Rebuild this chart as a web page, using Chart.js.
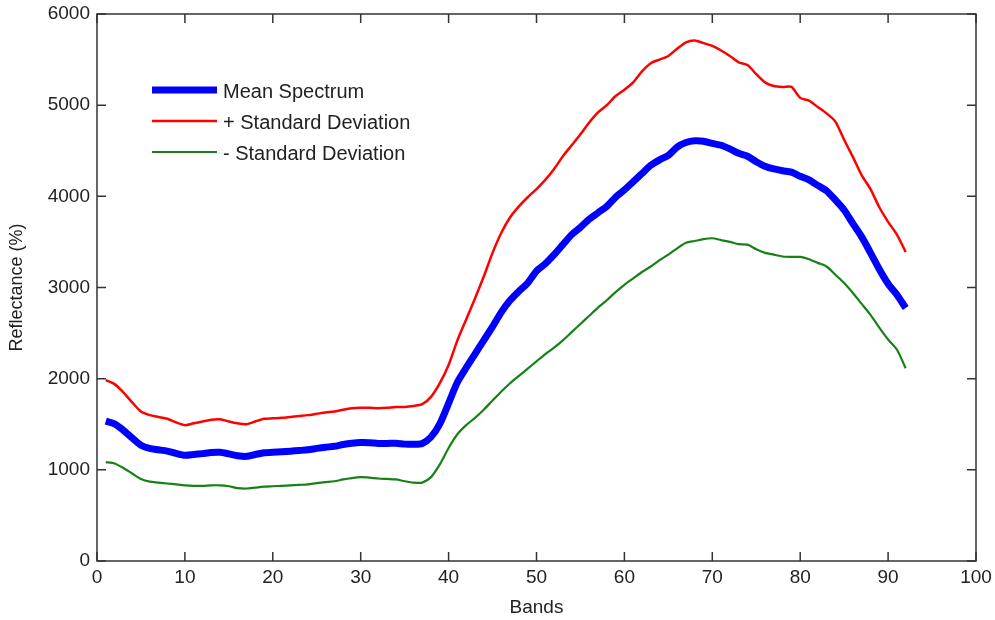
<!DOCTYPE html>
<html lang="en">

<head>
  <meta charset="UTF-8">
  <title>Mean Spectrum</title>
  <script src="https://cdn.jsdelivr.net/npm/chart.js"></script>
  <style>
    body {
      margin: 0;
      background-color: #fff;
    }

    #spectrum-chart {
      display: block;
    }
  </style>
</head>

<body>
  <canvas id="spectrum-chart" width="995" height="620"></canvas>

  <script>
    // values, bands 1..92
    const bands = Array.from({ length: 92 }, (_, i) => i + 1);

    const meanSpectrum = [
      1535, 1505, 1435, 1350, 1270, 1235, 1220, 1205, 1180, 1160,
      1168, 1178, 1190, 1192, 1175, 1155, 1148, 1168, 1188, 1192,
      1198, 1205, 1212, 1220, 1235, 1248, 1258, 1278, 1292, 1300,
      1298, 1290, 1290, 1292, 1282, 1280, 1290, 1360, 1505, 1730,
      1960, 2120, 2270, 2420, 2570, 2730, 2860, 2960, 3050, 3180,
      3260, 3360, 3470, 3580, 3660, 3750, 3820, 3890, 3990, 4070,
      4160, 4250, 4340, 4400, 4450, 4540, 4590, 4610, 4605, 4580,
      4560, 4520, 4472, 4440, 4380, 4330, 4300, 4280, 4265, 4220,
      4180, 4120, 4060, 3960, 3850, 3700, 3555, 3380, 3200, 3040,
      2920, 2775
    ];

    const plusStd = [
      1985, 1940, 1850, 1740, 1640, 1600, 1580, 1560, 1520, 1490,
      1510, 1530, 1550, 1555, 1530, 1510, 1500, 1530, 1560, 1565,
      1570, 1580, 1590, 1600, 1615, 1630, 1640, 1660, 1675, 1680,
      1680, 1675, 1680, 1690, 1690, 1700, 1720, 1800, 1950, 2150,
      2420, 2650, 2880, 3120, 3380, 3600, 3770, 3890, 3990, 4080,
      4180, 4300, 4440, 4560, 4680, 4810, 4920, 5000, 5100, 5170,
      5250, 5370, 5460, 5500, 5540, 5620, 5690, 5710, 5680, 5650,
      5600, 5540, 5470, 5440, 5340, 5250, 5210, 5200, 5200, 5080,
      5050, 4980, 4910, 4820, 4620, 4430, 4230, 4080, 3880, 3720,
      3580, 3390
    ];

    const minusStd = [
      1085, 1070, 1020, 960, 900, 870, 860, 850, 840, 830,
      825, 825, 830, 830, 820, 800, 795, 805, 815, 820,
      825, 830, 835, 840, 855, 865, 875, 895, 910, 920,
      915, 905, 900, 895, 875, 860, 860, 920, 1060, 1240,
      1390, 1490, 1570, 1660, 1760, 1860, 1950, 2030, 2110, 2190,
      2270, 2340, 2420, 2510, 2600, 2690, 2780, 2860, 2950, 3030,
      3100, 3170, 3230, 3300, 3360, 3430, 3490, 3510, 3530, 3540,
      3520, 3500, 3475, 3470, 3420, 3380, 3360, 3340, 3335, 3335,
      3310, 3270, 3230, 3140, 3050, 2940, 2820, 2700, 2560, 2430,
      2320, 2115
    ];

    const seriesLabels = ['Mean Spectrum', '+ Standard Deviation', '- Standard Deviation'];
    const xTicks = [0, 10, 20, 30, 40, 50, 60, 70, 80, 90, 100];
    const yTicks = [0, 1000, 2000, 3000, 4000, 5000, 6000];

    const FONT = 'Liberation Sans, Arial, sans-serif';
    const toPoints = (values) => values.map((v, i) => ({ x: bands[i], y: v }));

    // matlab style box with inward ticks + legend inside the plot
    const boxPlugin = {
      id: 'boxPlugin',
      afterDraw(chart) {
        const ctx = chart.ctx;
        const { left, right, top, bottom } = chart.chartArea;
        const xs = chart.scales.x;
        const ys = chart.scales.y;
        const tick = 9;

        ctx.save();
        ctx.strokeStyle = '#333';
        ctx.lineWidth = 1.5;
        ctx.strokeRect(left, top, right - left, bottom - top);

        ctx.beginPath();
        xTicks.forEach(t => {
          const px = xs.getPixelForValue(t);
          ctx.moveTo(px, bottom);
          ctx.lineTo(px, bottom - tick);
          ctx.moveTo(px, top);
          ctx.lineTo(px, top + tick);
        });
        yTicks.forEach(t => {
          const py = ys.getPixelForValue(t);
          ctx.moveTo(left, py);
          ctx.lineTo(left + tick, py);
          ctx.moveTo(right, py);
          ctx.lineTo(right - tick, py);
        });
        ctx.stroke();

        // legend
        const lx = 152, ly = 90, gap = 31, len = 65;
        ctx.font = '20px ' + FONT;
        ctx.textBaseline = 'middle';
        ctx.fillStyle = '#222';
        chart.data.datasets.forEach((ds, i) => {
          const y = ly + i * gap;
          ctx.beginPath();
          ctx.strokeStyle = ds.borderColor;
          ctx.lineWidth = ds.borderWidth;
          ctx.moveTo(lx, y);
          ctx.lineTo(lx + len, y);
          ctx.stroke();
          ctx.fillText(ds.label, lx + len + 6, y + 2);
        });
        ctx.restore();
      }
    };

    new Chart(document.getElementById('spectrum-chart'), {
      type: 'line',
      data: {
        datasets: [
          {
            label: seriesLabels[0],
            data: toPoints(meanSpectrum),
            borderColor: '#0000ff',
            borderWidth: 7,
            pointRadius: 0,
            tension: 0.25,
            fill: false
          },
          {
            label: seriesLabels[1],
            data: toPoints(plusStd),
            borderColor: '#ff0000',
            borderWidth: 2.5,
            pointRadius: 0,
            tension: 0.25,
            fill: false
          },
          {
            label: seriesLabels[2],
            data: toPoints(minusStd),
            borderColor: '#178017',
            borderWidth: 2.2,
            pointRadius: 0,
            tension: 0.25,
            fill: false
          }
        ]
      },
      options: {
        responsive: false,
        animation: false,
        layout: {
          padding: { top: 14, right: 19, left: 0, bottom: 0 }
        },
        plugins: {
          legend: { display: false },
          tooltip: { enabled: false }
        },
        scales: {
          x: {
            type: 'linear',
            min: 0,
            max: 100,
            afterBuildTicks: (s) => { s.ticks = xTicks.map(v => ({ value: v })); },
            afterFit: (s) => { s.height = 59; s.paddingLeft = 0; s.paddingRight = 0; },
            grid: { display: false, drawTicks: false },
            border: { display: false },
            ticks: {
              color: '#222',
              padding: 5,
              maxRotation: 0,
              font: { family: FONT, size: 19 }
            },
            title: {
              display: true,
              text: 'Bands',
              color: '#222',
              padding: { top: 0, bottom: 1 },
              font: { family: FONT, size: 19 }
            }
          },
          y: {
            min: 0,
            max: 6000,
            afterBuildTicks: (s) => { s.ticks = yTicks.map(v => ({ value: v })); },
            afterFit: (s) => { s.width = 97; s.paddingTop = 0; s.paddingBottom = 0; },
            grid: { display: false, drawTicks: false },
            border: { display: false },
            ticks: {
              color: '#222',
              padding: 7,
              font: { family: FONT, size: 19 },
              callback: (v) => String(v)
            },
            title: {
              display: true,
              text: 'Reflectance (%)',
              color: '#222',
              padding: { top: 6, bottom: 0 },
              font: { family: FONT, size: 18 }
            }
          }
        }
      },
      plugins: [boxPlugin]
    });
  </script>
</body>

</html>
